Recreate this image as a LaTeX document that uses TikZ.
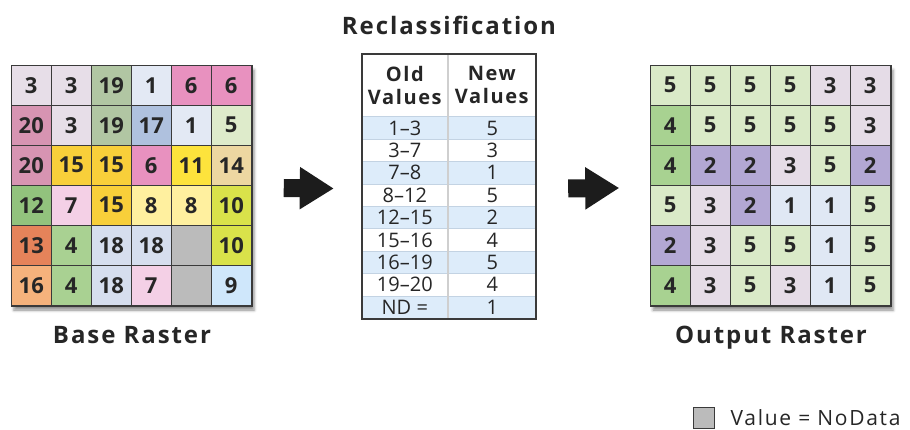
\documentclass[tikz,border=0pt]{standalone}
\usepackage{fontspec}
\setmainfont{Open Sans}
\newfontfamily\labelfont[LetterSpace=8]{Open Sans}
\usetikzlibrary{positioning,arrows.meta,shadows.blur}

\definecolor{ink}{HTML}{262626}
\definecolor{gridline}{HTML}{3A3A3A}
\definecolor{arrowink}{HTML}{1C1C1C}
\definecolor{rowblue}{HTML}{DDECFA}
\definecolor{rowline}{HTML}{C3D3E3}
\definecolor{divider}{HTML}{CFCFCF}
\definecolor{nodata}{HTML}{BBBBBB}
% base raster colours
\definecolor{lav}{HTML}{E7DEE8}
\definecolor{sage}{HTML}{B1C6A3}
\definecolor{ice}{HTML}{E3E9F4}
\definecolor{pink}{HTML}{E891BF}
\definecolor{rose}{HTML}{D794B2}
\definecolor{steel}{HTML}{AFC1DE}
\definecolor{mint}{HTML}{DEEBCB}
\definecolor{gold}{HTML}{F8CF3A}
\definecolor{sun}{HTML}{FDE33C}
\definecolor{tan}{HTML}{EDD7A1}
\definecolor{leaf}{HTML}{92C27D}
\definecolor{blush}{HTML}{F4D0E6}
\definecolor{cream}{HTML}{FFF09F}
\definecolor{lime}{HTML}{D9E24A}
\definecolor{rust}{HTML}{E5835A}
\definecolor{peach}{HTML}{F5B27C}
\definecolor{sprout}{HTML}{A9D192}
\definecolor{fog}{HTML}{D6DEEE}
\definecolor{sky}{HTML}{CFE7FB}
% output raster colours
\definecolor{out1}{HTML}{E0E8F4}
\definecolor{out2}{HTML}{B3A8D4}
\definecolor{out3}{HTML}{E5DCE7}
\definecolor{out4}{HTML}{A8D291}
\definecolor{out5}{HTML}{DAEAC8}

\begin{document}
\begin{tikzpicture}[
      x=1pt,y=-1pt,
      frame/.style = {rectangle,draw=gridline,line width=1.5pt,fill=white,minimum width=240pt,minimum height=240pt,inner sep=0pt,
        blur shadow={shadow xshift=2pt,shadow yshift=-4pt,shadow blur radius=3pt,shadow opacity=45}},
      cell/.style = {rectangle,draw=gridline,line width=1.2pt,minimum width=40pt,minimum height=40pt,inner sep=0pt,
        text=ink,font=\fontsize{22}{22}\selectfont\bfseries},
      head/.style = {align=center,text=ink,inner sep=0pt,font=\labelfont\fontsize{20}{23}\selectfont\bfseries},
      entry/.style = {rectangle,draw=rowline,line width=0.6pt,minimum height=22.4pt,inner sep=0pt,
        text=ink,font=\fontsize{20}{20}\selectfont},
      caption/.style = {inner sep=0pt,text depth=0pt,text=ink,font=\labelfont\fontsize{24}{24}\selectfont\bfseries},
      bigarrow/.style = {-{Triangle[length=34pt,width=40pt]},line width=18pt,draw=arrowink}
    ]
      \useasboundingbox (0,0) rectangle (910,430);

      \node (base)[frame] at (132,186) {};
      \foreach \cells [count=\r] in {
          {3/lav,3/lav,19/sage,1/ice,6/pink,6/pink},
          {20/rose,3/lav,19/sage,17/steel,1/ice,5/mint},
          {20/rose,15/gold,15/gold,6/pink,11/sun,14/tan},
          {12/leaf,7/blush,15/gold,8/cream,8/cream,10/lime},
          {13/rust,4/sprout,18/fog,18/fog,/nodata,10/lime},
          {16/peach,4/sprout,18/fog,7/blush,/nodata,9/sky}}
        \foreach \v/\c [count=\k] in \cells
          \node (b\r\k)[cell,fill=\c] at ([shift={(40*\k-20,40*\r-20)}]base.north west) {\v};
      \node (baselabel)[caption,below = 19pt of base]{Base Raster};

      \node (tab)[rectangle,fill=white,minimum width=174pt,minimum height=265pt,inner sep=0pt] at (449,186.5) {};
      \node (oldhead)[head] at ([shift={(43,31.5)}]tab.north west) {Old\\Values};
      \node (newhead)[head] at ([shift={(130,31.5)}]tab.north west) {New\\Values};
      \foreach \old/\new/\c [count=\i] in {1--3/5/rowblue,3--7/3/white,7--8/1/rowblue,8--12/5/white,
          12--15/2/rowblue,15--16/4/white,16--19/5/rowblue,19--20/4/white,ND =/1/rowblue} {
        \node (old\i)[entry,minimum width=86pt,fill=\c] at ([shift={(43,51.8+22.4*\i)}]tab.north west) {\old};
        \node (new\i)[entry,minimum width=88pt,fill=\c,right = 0pt of old\i] {\new};
      }
      \draw [divider,line width=2.5pt] ([xshift=86pt]tab.north west) -- ([xshift=86pt]tab.south west);
      \draw [gridline,line width=1.5pt] (tab.north west) rectangle (tab.south east);
      \node (title)[caption,above = 19pt of tab]{Reclassification};

      \node (out)[frame] at (771,186) {};
      \foreach \cells [count=\r] in {
          {5,5,5,5,3,3},{4,5,5,5,5,3},{4,2,2,3,5,2},
          {5,3,2,1,1,5},{2,3,5,5,1,5},{4,3,5,3,1,5}}
        \foreach \v [count=\k] in \cells
          \node (o\r\k)[cell,fill=out\v] at ([shift={(40*\k-20,40*\r-20)}]out.north west) {\v};
      \node (outlabel)[caption,below = 19pt of out]{Output Raster};

      \draw [bigarrow] ([shift={(31,2)}]base.east) -- ([shift={(-28,2)}]tab.west);
      \draw [bigarrow] ([shift={(32,2)}]tab.east) -- ([shift={(-31,2)}]out.west);

      \node (ndbox)[rectangle,draw=gridline,line width=1pt,fill=nodata,minimum size=21pt,inner sep=0pt] at (703.5,418) {};
      \node (ndtext)[right = 16pt of ndbox,inner sep=0pt,text=ink,font=\labelfont\fontsize{21}{21}\selectfont]{Value = NoData};
    \end{tikzpicture}
\end{document}
